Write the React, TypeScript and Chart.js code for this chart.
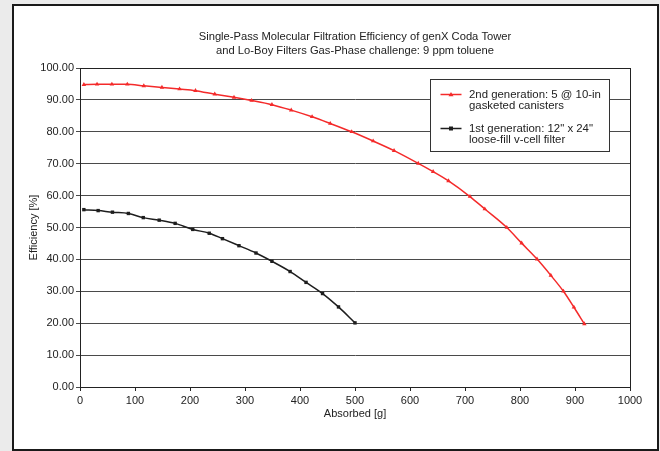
import React, { useEffect, useRef } from 'react';
import { Chart, registerables } from 'chart.js';

Chart.register(...registerables);

const titleLines = [
  'Single-Pass Molecular Filtration Efficiency of genX Coda Tower',
  'and Lo-Boy Filters Gas-Phase challenge: 9 ppm toluene',
];
const xTitle = 'Absorbed [g]';
const yTitle = 'Efficiency [%]';

const gen2Absorbed = [7, 31, 58, 86, 116, 149, 181, 210, 245, 280, 312, 349, 384, 422, 455, 494, 533, 571, 615, 642, 670, 709, 736, 776, 803, 831, 856, 879, 898, 917];
const gen2Efficiency = [94.8, 94.9, 94.9, 94.9, 94.4, 93.9, 93.4, 92.9, 91.8, 90.8, 89.8, 88.5, 86.8, 84.7, 82.6, 80.0, 77.1, 74.1, 70.1, 67.5, 64.6, 59.7, 55.8, 50.0, 45.1, 40.1, 35.0, 30.0, 25.0, 19.8];
const gen1Absorbed = [7, 33, 59, 88, 115, 144, 173, 205, 235, 259, 289, 320, 349, 382, 411, 441, 470, 500];
const gen1Efficiency = [55.6, 55.3, 54.8, 54.4, 53.1, 52.3, 51.3, 49.4, 48.2, 46.5, 44.3, 42.0, 39.4, 36.2, 32.8, 29.3, 25.1, 20.1];

const gen2Legend = ['2nd generation: 5 @ 10-in', 'gasketed canisters'];
const gen1Legend = ['1st generation: 12" x 24"', 'loose-fill v-cell filter'];

const RED = '#f42a2a';
const BLACK = '#1e1e1e';
const FONT = "'Liberation Sans', Arial, sans-serif";

const framePlugin = {
  id: 'frame',
  beforeDraw(chart: any) {
    const ctx = chart.ctx;
    const w = chart.width;
    const h = chart.height;
    ctx.save();
    ctx.fillStyle = '#ebebeb';
    ctx.fillRect(0, 0, w, h);
    ctx.fillStyle = '#ffffff';
    ctx.fillRect(12, 4, w - 13, h - 4);
    ctx.strokeStyle = '#1a1a1a';
    ctx.lineWidth = 2;
    ctx.strokeRect(13, 5, w - 15, h - 6);
    ctx.restore();
  },
  afterDraw(chart: any) {
    const ctx = chart.ctx;
    const a = chart.chartArea;
    ctx.save();
    ctx.strokeStyle = '#222';
    ctx.lineWidth = 1;
    ctx.strokeRect(Math.round(a.left) + 0.5, Math.round(a.top) + 0.5, Math.round(a.right - a.left), Math.round(a.bottom - a.top));
    ctx.restore();
  },
};

const legendPlugin = {
  id: 'insideLegend',
  afterDatasetsDraw(chart: any) {
    const ctx = chart.ctx;
    const a = chart.chartArea;
    const bx = a.right - 199.5;
    const by = a.top + 11.5;
    const bw = 179;
    const bh = 72;
    ctx.save();
    ctx.fillStyle = '#ffffff';
    ctx.fillRect(bx, by, bw, bh);
    ctx.strokeStyle = '#333';
    ctx.lineWidth = 1;
    ctx.strokeRect(bx, by, bw, bh);
    ctx.font = `11.4px ${FONT}`;
    ctx.textBaseline = 'middle';
    ctx.textAlign = 'left';
    const items = [
      { lines: gen2Legend, color: RED, style: 'triangle', y: by + 15 },
      { lines: gen1Legend, color: BLACK, style: 'rect', y: by + 49 },
    ];
    items.forEach((it) => {
      ctx.strokeStyle = it.color;
      ctx.lineWidth = 1.5;
      ctx.beginPath();
      ctx.moveTo(bx + 10, it.y);
      ctx.lineTo(bx + 31, it.y);
      ctx.stroke();
      ctx.fillStyle = it.color;
      const cx = bx + 20.5;
      if (it.style === 'triangle') {
        ctx.beginPath();
        ctx.moveTo(cx, it.y - 2.5);
        ctx.lineTo(cx + 2.5, it.y + 1.8);
        ctx.lineTo(cx - 2.5, it.y + 1.8);
        ctx.closePath();
        ctx.fill();
      } else {
        ctx.fillRect(cx - 2, it.y - 2, 4, 4);
      }
      ctx.fillStyle = '#222';
      it.lines.forEach((t: string, i: number) => {
        ctx.fillText(t, bx + 38.5, it.y + i * 11.8);
      });
    });
    ctx.restore();
  },
};

export default function App() {
  const ref = useRef<HTMLCanvasElement | null>(null);

  useEffect(() => {
    if (!ref.current) return;
    Chart.defaults.font.family = FONT;
    Chart.defaults.font.size = 11;
    Chart.defaults.color = '#222';

    const chart = new Chart(ref.current, {
      type: 'line',
      data: {
        datasets: [
          {
            label: gen2Legend.join(' '),
            data: gen2Absorbed.map((x, i) => ({ x, y: gen2Efficiency[i] })),
            borderColor: RED,
            backgroundColor: RED,
            borderWidth: 1.5,
            pointStyle: 'triangle',
            pointRadius: 2.6,
            pointBorderWidth: 0,
            cubicInterpolationMode: 'monotone',
            fill: false,
          },
          {
            label: gen1Legend.join(' '),
            data: gen1Absorbed.map((x, i) => ({ x, y: gen1Efficiency[i] })),
            borderColor: BLACK,
            backgroundColor: BLACK,
            borderWidth: 1.5,
            pointStyle: 'rect',
            pointRadius: 2.4,
            pointBorderWidth: 0,
            cubicInterpolationMode: 'monotone',
            fill: false,
          },
        ],
      },
      options: {
        animation: false,
        responsive: false,
        devicePixelRatio: 1,
        layout: { padding: { left: 0, right: 30, top: 0, bottom: 0 } },
        plugins: {
          legend: { display: false },
          tooltip: { enabled: false },
          title: {
            display: true,
            text: titleLines,
            fullSize: false,
            color: '#222',
            font: { size: 11.2, weight: 'normal', lineHeight: '14px' } as any,
            padding: { top: 30, bottom: 10 },
          },
        },
        scales: {
          x: {
            type: 'linear',
            min: 0,
            max: 1000,
            ticks: { stepSize: 100, padding: 3, color: '#222', font: { size: 11 }, callback: (v: any) => String(v) },
            grid: { drawOnChartArea: false, drawTicks: true, tickLength: 4, color: '#222' },
            border: { display: true, color: '#222', width: 1 },
            title: { display: true, text: xTitle, color: '#222', font: { size: 11 }, padding: { top: 0, bottom: 30.5 } },
            afterFit: (s: any) => { s.height = 64; },
          },
          y: {
            type: 'linear',
            min: 0,
            max: 100,
            ticks: { stepSize: 10, padding: 2, color: '#222', font: { size: 11 }, callback: (v: any) => Number(v).toFixed(2) },
            grid: { color: '#4a4a4a', drawTicks: true, tickLength: 4 },
            border: { display: true, color: '#222', width: 1 },
            title: { display: true, text: yTitle, color: '#222', font: { size: 11 }, padding: { top: 27.5, bottom: 0 } },
            afterFit: (s: any) => { s.width = 80; },
          },
        },
      } as any,
      plugins: [framePlugin, legendPlugin],
    });
    return () => chart.destroy();
  }, []);

  return (
    <div style={{ position: 'absolute', left: 0, top: 0, width: 660, height: 451 }}>
      <canvas ref={ref} width={660} height={451} style={{ display: 'block', width: 660, height: 451 }} />
    </div>
  );
}
